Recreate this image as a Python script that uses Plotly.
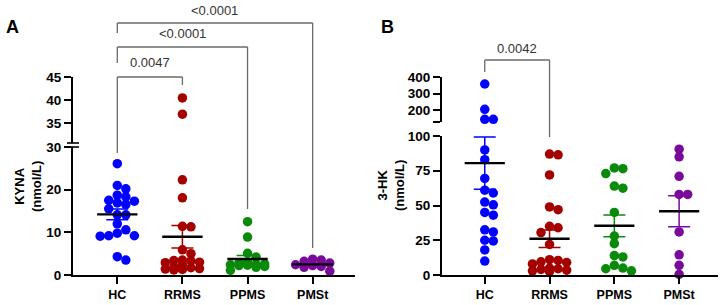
import numpy as np
import plotly.graph_objects as go

# ---------------- data ----------------
categories = ["HC", "RRMS", "PPMS", "PMSt"]
colors = ["#0000FF", "#A50000", "#0A8A0A", "#7A0A9A"]

kyna_hc = [26.1, 21.0, 20.2, 18.7, 18.3, 16.9, 17.5, 17.3, 16.5, 15.5,
           14.1, 14.1, 12.0, 10.6, 9.2, 9.2, 9.1, 9.8, 3.5, 4.3]
kyna_rrms = [40.5, 37.0, 22.3, 18.1, 11.4, 11.3, 5.9, 5.0, 3.5, 3.4,
             3.3, 3.0, 2.9, 1.9, 1.7, 1.5, 1.4, 1.3, 1.2, 2.4]
kyna_ppms = [12.5, 8.9, 5.1, 4.2, 3.0, 2.8, 2.6, 2.5, 2.4, 2.3, 2.2, 2.0, 1.8, 1.1]
kyna_pmst = [3.7, 3.5, 3.2, 2.8, 2.4, 2.2, 2.0, 1.8, 0.9]
kyna_mean = [14.2, 8.95, 3.75, 2.5]
kyna_sem = [1.25, 2.65, 0.8, 0.3]

hk_hc = [358, 206, 146, 146, 90, 83, 69.5, 61, 59, 52.5, 50.5, 45, 43,
         32.5, 31, 25, 24.5, 18, 10]
hk_rrms = [87, 86.5, 72, 49, 47, 35, 34, 30.5, 22, 11, 10.5, 9.5, 9, 8,
           5, 4.5, 4, 3.5, 3, 2.5]
hk_ppms = [77, 76.5, 73, 64, 62.5, 45, 28, 22.5, 14, 13, 7, 5, 4.5, 3]
hk_pmst = [90.5, 85, 71, 58, 58, 31, 14.5, 7, 0.5]
hk_mean = [80.5, 26.1, 35.4, 45.9]
hk_sem = [18.8, 6.25, 7.8, 11.2]

kyna_comparisons = [(0, 1, "0.0047"), (0, 2, "<0.0001"), (0, 3, "<0.0001")]
hk_comparisons = [(0, 1, "0.0042")]

lower_ticks_a = [0, 10, 20, 30]
upper_ticks_a = [35, 40, 45]
lower_ticks_b = [0, 25, 50, 75, 100]
upper_ticks_b = [130, 200, 300, 400]
upper_ticktext_b = ["", "200", "300", "400"]

# ---------------- layout constants (pixels) ----------------
W, H = 725, 305
FONT = "Liberation Sans, Arial, sans-serif"
MS = 9.5  # marker diameter px


def fx(p):
    return p / W


def fy(p):
    return 1 - p / H


panels = [
    dict(xa="x", ya_low="y", ya_up="y2", xdom=(73, 355), xr=(-0.68, 3.65),
         low_dom=(147, 275), low_rng=(0, 30), up_dom=(77, 143), up_rng=(30.8, 45),
         groups=[kyna_hc, kyna_rrms, kyna_ppms, kyna_pmst], mean=kyna_mean, sem=kyna_sem,
         low_ticks=lower_ticks_a, up_ticks=upper_ticks_a, up_text=[str(t) for t in upper_ticks_a],
         comps=kyna_comparisons),
    dict(xa="x2", ya_low="y3", ya_up="y4", xdom=(442, 718), xr=(-0.66, 3.6),
         low_dom=(136, 275), low_rng=(0, 100), up_dom=(77, 122), up_rng=(130, 400),
         groups=[hk_hc, hk_rrms, hk_ppms, hk_pmst], mean=hk_mean, sem=hk_sem,
         low_ticks=lower_ticks_b, up_ticks=upper_ticks_b, up_text=upper_ticktext_b,
         comps=hk_comparisons),
]


def make_to_px(p):
    lb, lt = p["low_dom"][1], p["low_dom"][0]
    ub, ut = p["up_dom"][1], p["up_dom"][0]
    l0, l1 = p["low_rng"]
    u0, u1 = p["up_rng"]

    def to_px(v):
        if v <= l1:
            return lb - (v - l0) / (l1 - l0) * (lb - lt)
        return ub - (v - u0) / (u1 - u0) * (ub - ut)
    return to_px


def swarm(values, to_px, d, max_steps=2):
    vals = np.asarray(values, dtype=float)
    order = np.argsort(-vals, kind="stable")
    cands = [0]
    for k in range(1, max_steps + 1):
        cands += [k, -k]
    placed = []
    offs = np.zeros(len(vals))
    for i in order:
        y = to_px(vals[i])
        best, best_d = 0.0, -1.0
        chosen = None
        for c in cands:
            xo = c * d * 0.9
            md = min([np.hypot(xo - a, y - b) for a, b in placed] or [1e9])
            if md >= 0.75 * d:
                chosen = xo
                break
            if md > best_d:
                best, best_d = xo, md
        if chosen is None:
            chosen = best
        placed.append((chosen, y))
        offs[i] = chosen
    return offs


fig = go.Figure()
shapes = []
annotations = []
layout_axes = {}

for p in panels:
    to_px = make_to_px(p)
    px_per_cat = (p["xdom"][1] - p["xdom"][0]) / (p["xr"][1] - p["xr"][0])
    for i, vals in enumerate(p["groups"]):
        offs = swarm(vals, to_px, MS) / px_per_cat
        vals = np.asarray(vals, dtype=float)
        xs = i + offs
        lowm = vals <= p["low_rng"][1]
        for mask, ya in ((lowm, p["ya_low"]), (~lowm, p["ya_up"])):
            if mask.any():
                fig.add_trace(go.Scatter(
                    x=xs[mask], y=vals[mask], mode="markers", xaxis=p["xa"], yaxis=ya,
                    marker=dict(color=colors[i], size=MS, line=dict(width=0)),
                    cliponaxis=False, showlegend=False, hoverinfo="skip"))
        # SEM
        fig.add_trace(go.Scatter(
            x=[i], y=[p["mean"][i]], mode="markers", xaxis=p["xa"], yaxis=p["ya_low"],
            marker=dict(color=colors[i], size=1),
            error_y=dict(type="data", array=[p["sem"][i]], color=colors[i], thickness=1.5, width=11),
            cliponaxis=False, showlegend=False, hoverinfo="skip"))
        # mean line
        fig.add_trace(go.Scatter(
            x=[i - 0.31, i + 0.31], y=[p["mean"][i]] * 2, mode="lines",
            xaxis=p["xa"], yaxis=p["ya_low"], line=dict(color="black", width=2.4),
            cliponaxis=False, showlegend=False, hoverinfo="skip"))

    axcommon = dict(showline=True, linecolor="black", linewidth=2, ticks="outside",
                    tickcolor="black", tickwidth=2, ticklen=7, showgrid=False, zeroline=False,
                    automargin=False,
                    tickfont=dict(family=FONT, size=13.5, color="black", weight="bold"))
    xkey = "xaxis" if p["xa"] == "x" else "xaxis" + p["xa"][1:]
    ylkey = "yaxis" if p["ya_low"] == "y" else "yaxis" + p["ya_low"][1:]
    yukey = "yaxis" + p["ya_up"][1:]
    layout_axes[xkey] = dict(axcommon, domain=[fx(p["xdom"][0]), fx(p["xdom"][1])],
                             range=list(p["xr"]), anchor=p["ya_low"],
                             tickvals=list(range(len(categories))), ticktext=categories,
                             tickfont=dict(family=FONT, size=12.5, color="black", weight="bold"))
    layout_axes[ylkey] = dict(axcommon, domain=[fy(p["low_dom"][1]), fy(p["low_dom"][0])],
                              range=list(p["low_rng"]), anchor=p["xa"], tickvals=p["low_ticks"])
    layout_axes[yukey] = dict(axcommon, domain=[fy(p["up_dom"][1]), fy(p["up_dom"][0])],
                              range=list(p["up_rng"]), anchor=p["xa"], tickvals=p["up_ticks"],
                              ticktext=p["up_text"])

# break marks for panel A
for yb in (143, 147):
    shapes.append(dict(type="line", xref="paper", yref="paper", x0=fx(67), x1=fx(79),
                       y0=fy(yb), y1=fy(yb), line=dict(color="black", width=1.6)))

# significance brackets (heights in px: bar, left leg end, right leg end)
bracket_px = {
    "x": [(77, 153, 85), (47, 63, 209), (23, 33, 248)],
    "x2": [(60, 72, 137)],
}
label_px = {"x": [63, 34, 11], "x2": [48]}
for p in panels:
    for k, (a, b, txt) in enumerate(p["comps"]):
        bar, ll, rl = bracket_px[p["xa"]][k]
        ln = dict(color="#6A6A6A", width=1.3)
        shapes.append(dict(type="line", xref=p["xa"], yref="paper", x0=a, x1=b,
                           y0=fy(bar), y1=fy(bar), line=ln))
        shapes.append(dict(type="line", xref=p["xa"], yref="paper", x0=a, x1=a,
                           y0=fy(bar), y1=fy(ll), line=ln))
        shapes.append(dict(type="line", xref=p["xa"], yref="paper", x0=b, x1=b,
                           y0=fy(bar), y1=fy(rl), line=ln))
        annotations.append(dict(x=(a + b) / 2, y=fy(label_px[p["xa"]][k]), xref=p["xa"],
                                yref="paper", text=txt, showarrow=False,
                                xanchor="center", yanchor="middle",
                                font=dict(family=FONT, size=13, color="#333333")))

# axis titles and panel letters
title_font = dict(family=FONT, size=13, color="black", weight="bold")
annotations.append(dict(x=fx(28), y=fy(187), xref="paper", yref="paper",
                        text="KYNA<br>(nmol/L)", textangle=-90, showarrow=False,
                        xanchor="center", yanchor="middle", font=title_font))
annotations.append(dict(x=fx(391), y=fy(186), xref="paper", yref="paper",
                        text="3-HK<br>(nmol/L)", textangle=-90, showarrow=False,
                        xanchor="center", yanchor="middle", font=title_font))
letter_font = dict(family=FONT, size=18, color="black", weight="bold")
annotations.append(dict(x=fx(12), y=fy(27), xref="paper", yref="paper", text="A",
                        xanchor="center", yanchor="middle", showarrow=False, font=letter_font))
annotations.append(dict(x=fx(387), y=fy(27), xref="paper", yref="paper", text="B",
                        xanchor="center", yanchor="middle", showarrow=False, font=letter_font))

fig.update_layout(width=W, height=H,
                  margin=dict(l=0, r=0, t=0, b=0, pad=0, autoexpand=False),
                  paper_bgcolor="white", plot_bgcolor="white", showlegend=False,
                  shapes=shapes, annotations=annotations, **layout_axes)

fig.write_html("out.html")
